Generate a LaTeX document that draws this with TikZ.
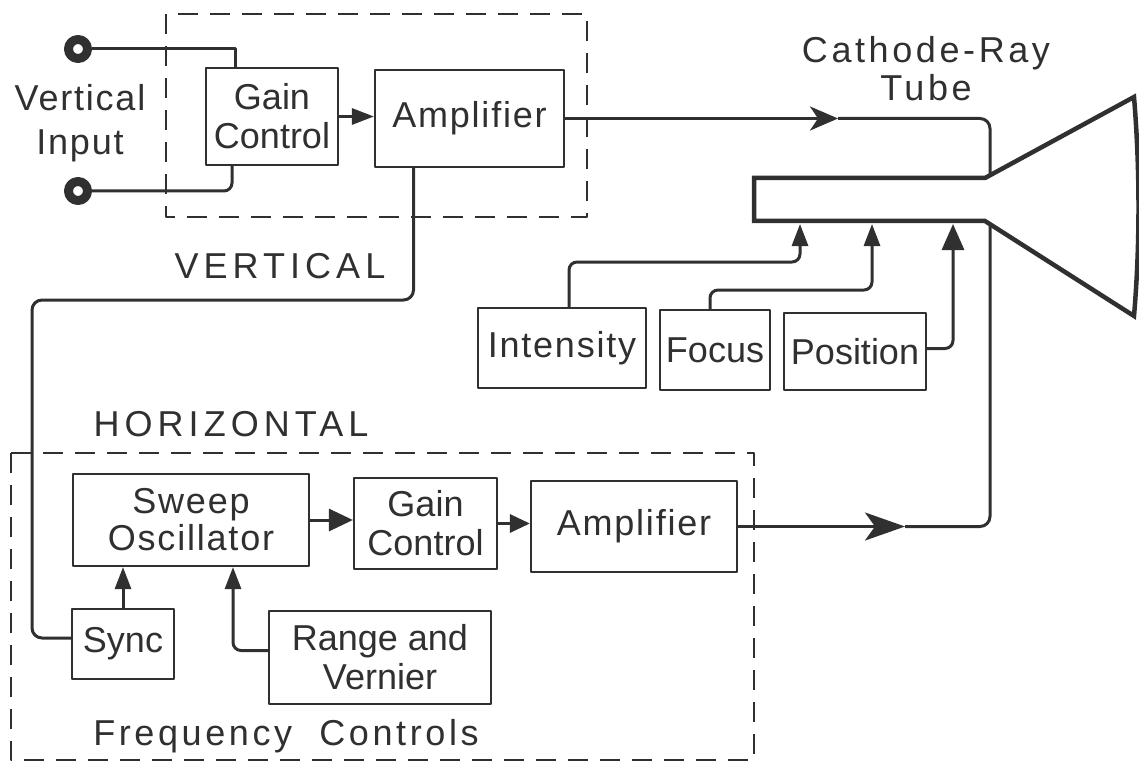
\documentclass[tikz,border=0pt]{standalone}
\usepackage{fontspec}
\setmainfont{Liberation Sans}
\newfontfamily\lsA[LetterSpace=14]{Liberation Sans}
\newfontfamily\lsB[LetterSpace=10]{Liberation Sans}
\newfontfamily\lsC[LetterSpace=5]{Liberation Sans}
\usetikzlibrary{arrows.meta,calc}
\definecolor{ink}{HTML}{303030}
\begin{document}
\begin{tikzpicture}[x=1pt,y=-1pt, line join=round,
  every node/.style={font=\fontsize{36}{39}\selectfont, text=ink},
  box/.style={draw=ink, line width=2.2pt, inner sep=0pt, align=center},
  wire/.style={draw=ink, line width=3pt},
  dashbox/.style={draw=ink, line width=2.5pt, dash pattern=on 20pt off 12pt},
  tube/.style={draw=ink, line width=4.5pt, line join=miter},
  terminal/.style={circle, draw=ink, fill=white, line width=9pt, minimum size=19pt, inner sep=0pt},
  tip/.style={-{Triangle[length=22pt,width=16pt]}},
  label/.style={inner sep=0pt, align=center},
]
\fill[white] (0,0) rectangle (1139,767);
\useasboundingbox (0,0) rectangle (1139,767);

% dashed groups
\draw[dashbox] (166,14) rectangle (587,217);
\draw[dashbox] (11,453) rectangle (754,760);

% terminals and labels
\node[terminal] (t1) at (78,49) {};
\node[terminal] (t2) at (78,191) {};
\node[label, font=\lsC\fontsize{36}{44}\selectfont] (vinput) at (80,123) {Vertical\\Input};
\node[label, font=\lsA\fontsize{36}{40}\selectfont, anchor=base] (vlab) at (280,278) {VERTICAL};
\node[label, font=\lsA\fontsize{36}{40}\selectfont, anchor=base] (hlab) at (231,436) {HORIZONTAL};
\node[label, font=\lsB\fontsize{36}{40}\selectfont, anchor=base] (flab) at (286,745) {Frequency\ \ Controls};
\node[label, font=\lsB\fontsize{36}{38}\selectfont] (crt) at (926,69) {Cathode-Ray\\Tube};

% boxes
\node[box, minimum width=132pt, minimum height=97pt] (gainV) at (272,116.5) {Gain\\Control};
\node[box, minimum width=189pt, minimum height=97pt, font=\lsC\fontsize{36}{39}\selectfont] (ampV) at (469.5,118.5) {Amplifier};
\node[box, minimum width=168pt, minimum height=80pt, font=\lsC\fontsize{36}{39}\selectfont] (intensity) at (562,348) {Intensity};
\node[box, minimum width=110pt, minimum height=80pt] (focus) at (715,350) {Focus};
\node[box, minimum width=142pt, minimum height=77pt] (position) at (855,351.5) {Position};
\node[box, minimum width=236pt, minimum height=92pt, font=\lsC\fontsize{36}{37}\selectfont] (sweep) at (191,520) {Sweep\\Oscillator};
\node[box, minimum width=143pt, minimum height=91pt] (gainH) at (425.5,523.5) {Gain\\Control};
\node[box, minimum width=206pt, minimum height=91pt, font=\lsC\fontsize{36}{39}\selectfont] (ampH) at (634,526.5) {Amplifier};
\node[box, minimum width=102pt, minimum height=70pt] (sync) at (123,644) {Sync};
\node[box, minimum width=222pt, minimum height=93pt] (range) at (380,657.5) {Range and\\Vernier};

% cathode-ray tube
\draw[tube] (985,178) -- (754,178) -- (754,221) -- (985,221) -- (1134,316)
  .. controls (1140,245) and (1140,170) .. (1134,97) -- cycle;
\coordinate (vIn) at (990,176);
\coordinate (hIn) at (990,224);
\coordinate (gIn) at (800,224);
\coordinate (gFo) at (872,224);
\coordinate (gPo) at (953,224);
\coordinate (vArr) at (838,118.5);
\coordinate (hArr) at (905,526.5);

% vertical channel wiring
\draw[wire] (t1.east) -| ([xshift=-37pt]gainV.north);
\draw[wire, rounded corners=8pt] (t2.east) -| ([xshift=-40pt]gainV.south);
\draw[wire, tip] (gainV.east) -- (gainV.east -| ampV.west);
\draw[wire, -{Stealth[length=28pt,width=24pt,inset=8pt]}] (ampV.east) -- (vArr);
\draw[wire, rounded corners=10pt] (vArr) -| (vIn);

% tube controls
\draw[wire, rounded corners=8pt, tip] ([xshift=7pt]intensity.north) |- ($(gIn)+(0,38)$) -- (gIn);
\draw[wire, rounded corners=8pt, tip] ([xshift=-5pt]focus.north) |- ($(gFo)+(0,66)$) -- (gFo);
\draw[wire, rounded corners=8pt, -{Triangle[length=26pt,width=22pt]}] ([yshift=3pt]position.east) -| (gPo);

% horizontal channel wiring
\draw[wire, -{Triangle[length=24pt,width=22pt]}] (sweep.east) -- (sweep.east -| gainH.west);
\draw[wire, -{Triangle[length=20pt,width=18pt]}] (gainH.east) -- (gainH.east -| ampH.west);
\draw[wire, -{Stealth[length=40pt,width=28pt,inset=10pt]}] (ampH.east) -- (hArr);
\draw[wire, rounded corners=10pt] (hArr) -| (hIn);
\draw[wire, tip] (sync.north) -- (sync.north |- sweep.south);
\draw[wire, rounded corners=8pt, tip] ([yshift=7pt]range.west) -| ([xshift=42pt]sweep.south);
\draw[wire, rounded corners=10pt] ([xshift=-56pt]ampV.south) |- (32,300) |- ([yshift=6pt]sync.west);
\end{tikzpicture}
\end{document}
